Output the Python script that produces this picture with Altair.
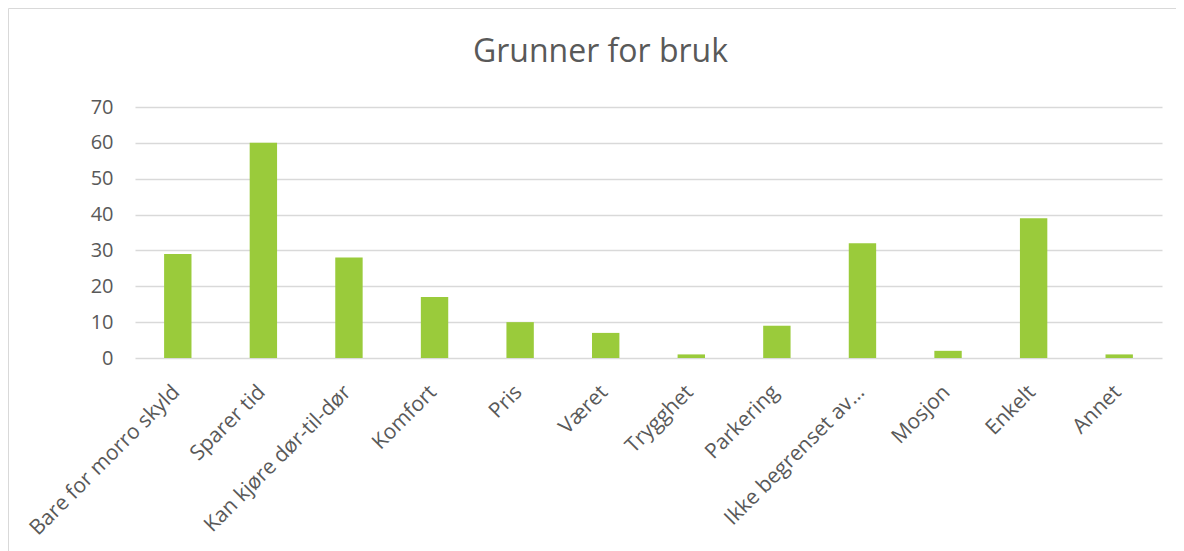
import altair as alt
import pandas as pd

categories = [
    "Bare for morro skyld", "Sparer tid", "Kan kjøre dør-til-dør", "Komfort",
    "Pris", "Været", "Trygghet", "Parkering", "Ikke begrenset av…",
    "Mosjon", "Enkelt", "Annet",
]
values = [29, 60, 28, 17, 10, 7, 1, 9, 32, 2, 39, 1]
y_ticks = [0, 10, 20, 30, 40, 50, 60, 70]

df = pd.DataFrame({"kategori": categories, "antall": values})

FONT = "Open Sans"
TXT = "#595959"
GRID = "#d9d9d9"

frame = alt.Chart(alt.Data(values=[{}])).mark_rect(
    fill="transparent", stroke=GRID, strokeWidth=1
).encode(
    x=alt.value(-126.5), x2=alt.value(1200),
    y=alt.value(-98.5), y2=alt.value(600),
)

bars = alt.Chart(df).mark_bar(color="#9ACB3B").encode(
    x=alt.X(
        "kategori:N", sort=categories, title=None,
        scale=alt.Scale(paddingInner=0.68, paddingOuter=0.34),
        axis=alt.Axis(
            labelAngle=315, labelAlign="right", labelBaseline="top",
            labelPadding=23, labelOffset=-9, ticks=False, tickSize=0, domain=False,
            labelFont=FONT, labelFontSize=21, labelColor=TXT, labelLimit=0,
            grid=False,
        ),
    ),
    y=alt.Y(
        "antall:Q", title=None,
        scale=alt.Scale(domain=[0, 70]),
        axis=alt.Axis(
            values=y_ticks, ticks=False, tickSize=0, domain=False,
            labelPadding=22, labelFont=FONT, labelFontSize=20, labelColor=TXT,
            grid=True, gridColor=GRID, gridWidth=1.3,
        ),
    ),
)

chart = alt.layer(frame, bars).properties(
    width=1027, height=251,
    autosize=alt.AutoSizeParams(type="none"),
    padding={"left": 127, "top": 99, "right": 14, "bottom": 193},
    title=alt.TitleParams(
        "Grunner for bruk", font=FONT, fontSize=32, fontWeight="normal",
        color=TXT, anchor="middle", frame="group", baseline="alphabetic",
        offset=-86, dx=-48,
    ),
).configure_view(stroke=None)

chart.save("out.html", embed_options={"renderer": "svg", "actions": False})
